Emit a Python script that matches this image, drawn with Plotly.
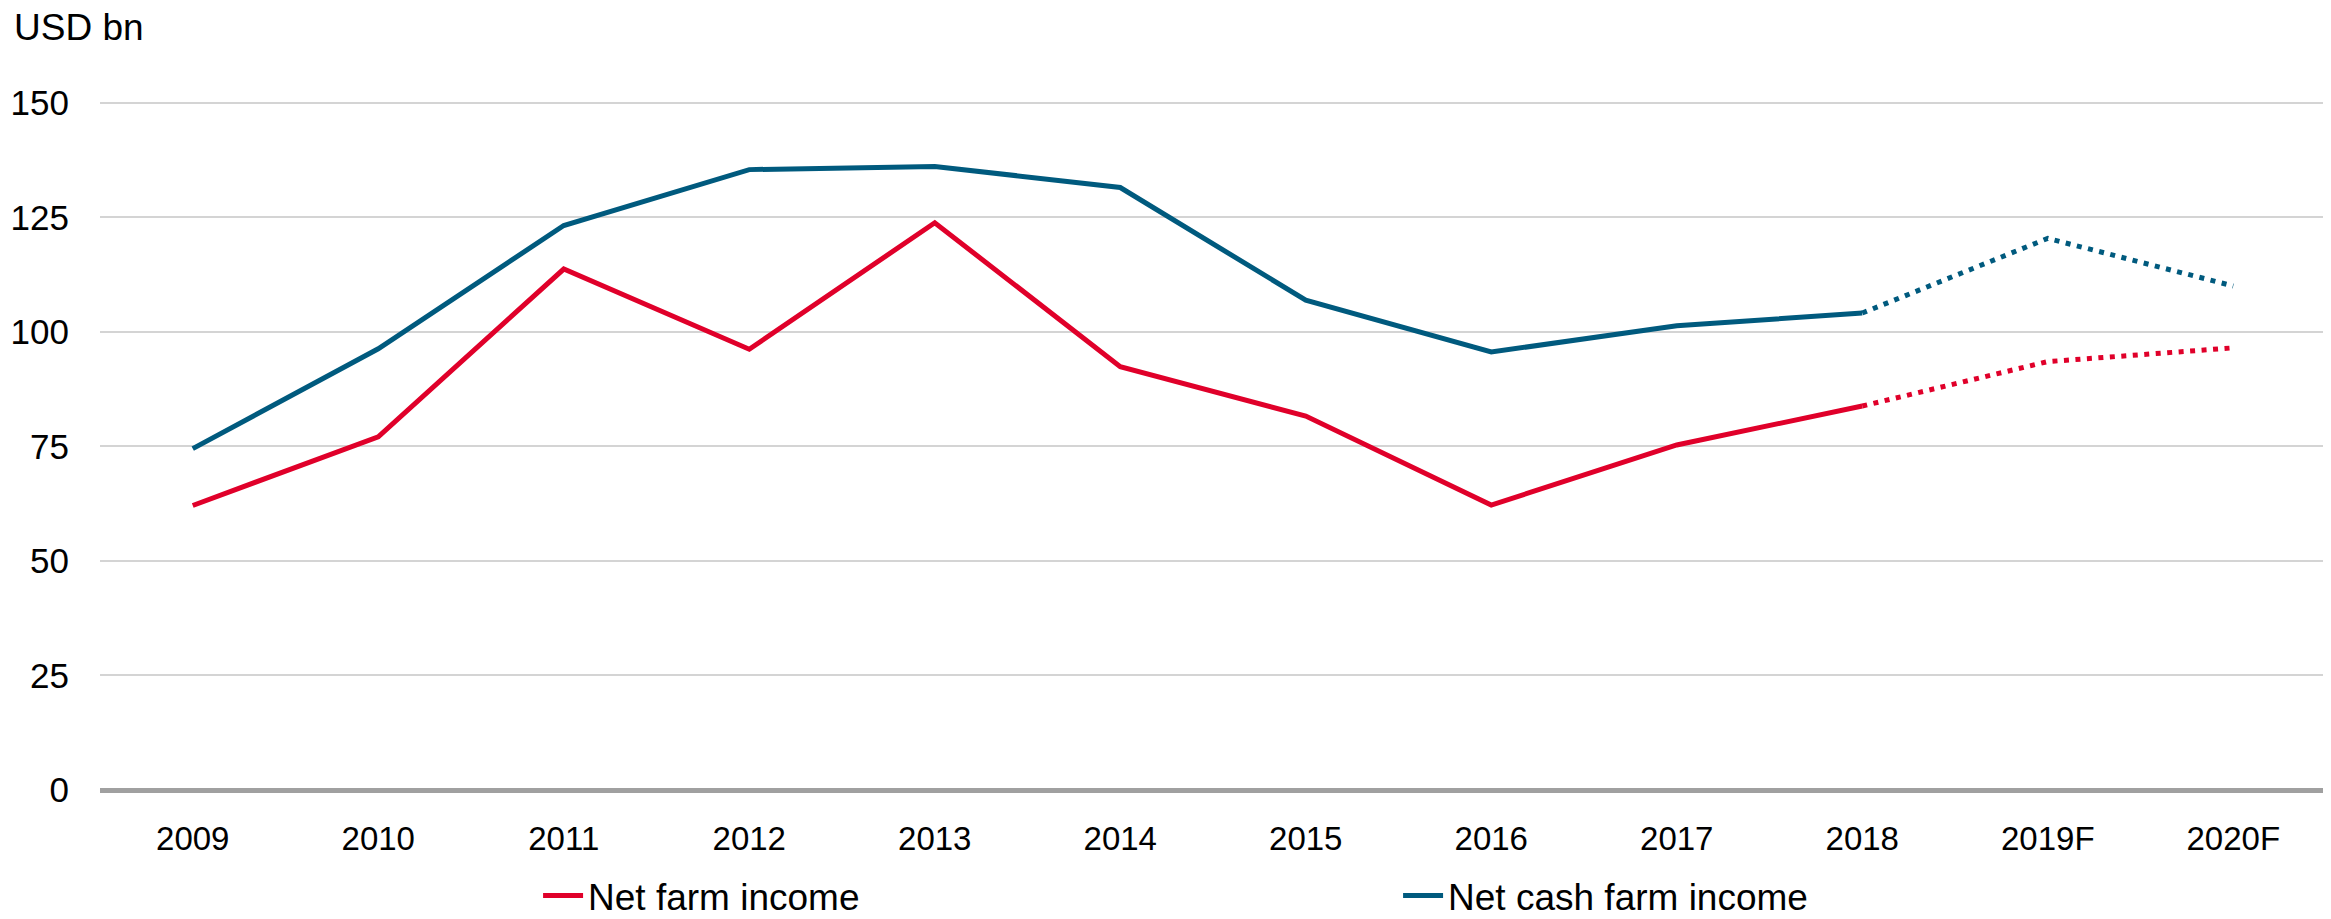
import plotly.graph_objects as go

years = ["2009", "2010", "2011", "2012", "2013", "2014", "2015", "2016", "2017", "2018", "2019F", "2020F"]
net_farm_income = [62.1, 77.1, 113.7, 96.2, 123.8, 92.4, 81.6, 62.2, 75.3, 83.8, 93.5, 96.5]
net_cash_farm_income = [74.5, 96.3, 123.2, 135.4, 136.1, 131.5, 106.9, 95.6, 101.3, 104.1, 120.4, 110.0]
y_ticks = [0, 25, 50, 75, 100, 125, 150]
n_actual = 10  # 2009..2018 actual, rest forecast

RED = "#E0002A"
BLUE = "#005A7E"
FONT = "Liberation Sans, Arial, sans-serif"
LW = 5

fig = go.Figure()
fig.add_trace(go.Scatter(x=years[:n_actual], y=net_farm_income[:n_actual], mode="lines",
                         name="Net farm income", line=dict(color=RED, width=LW)))
fig.add_trace(go.Scatter(x=years[n_actual - 1:], y=net_farm_income[n_actual - 1:], mode="lines",
                         showlegend=False, line=dict(color=RED, width=LW, dash="5px,6.5px")))
fig.add_trace(go.Scatter(x=years[:n_actual], y=net_cash_farm_income[:n_actual], mode="lines",
                         name="Net cash farm income", line=dict(color=BLUE, width=LW)))
fig.add_trace(go.Scatter(x=years[n_actual - 1:], y=net_cash_farm_income[n_actual - 1:], mode="lines",
                         showlegend=False, line=dict(color=BLUE, width=LW, dash="5px,6.5px")))

fig.update_layout(
    width=2323, height=911,
    margin=dict(l=92, r=5, t=26, b=129, autoexpand=False),
    plot_bgcolor="white", paper_bgcolor="white",
    font=dict(family=FONT, size=33, color="black"),
    showlegend=True,
    legend=dict(orientation="h", x=0.1968, xanchor="left", y=-0.140, yanchor="middle",
                font=dict(size=37), entrywidth=805, entrywidthmode="pixels",
                itemwidth=40, traceorder="normal"),
    annotations=[dict(text="USD bn", xref="paper", yref="paper", x=-0.0395, y=1.0,
                      xanchor="left", yanchor="bottom", yshift=-16, showarrow=False,
                      font=dict(size=37))],
)
fig.update_xaxes(type="category", range=[-0.5, 11.5], showgrid=False, showline=False,
                 ticks="", ticklabelstandoff=26, tickfont=dict(size=33))
fig.update_yaxes(range=[0, 165], tickvals=y_ticks, showgrid=True, gridcolor="#D4D4D4", gridwidth=2,
                 zeroline=True, zerolinecolor="#A0A0A0", zerolinewidth=5,
                 ticks="", ticklabelstandoff=30, tickfont=dict(size=35))

fig.write_html("out.html")
